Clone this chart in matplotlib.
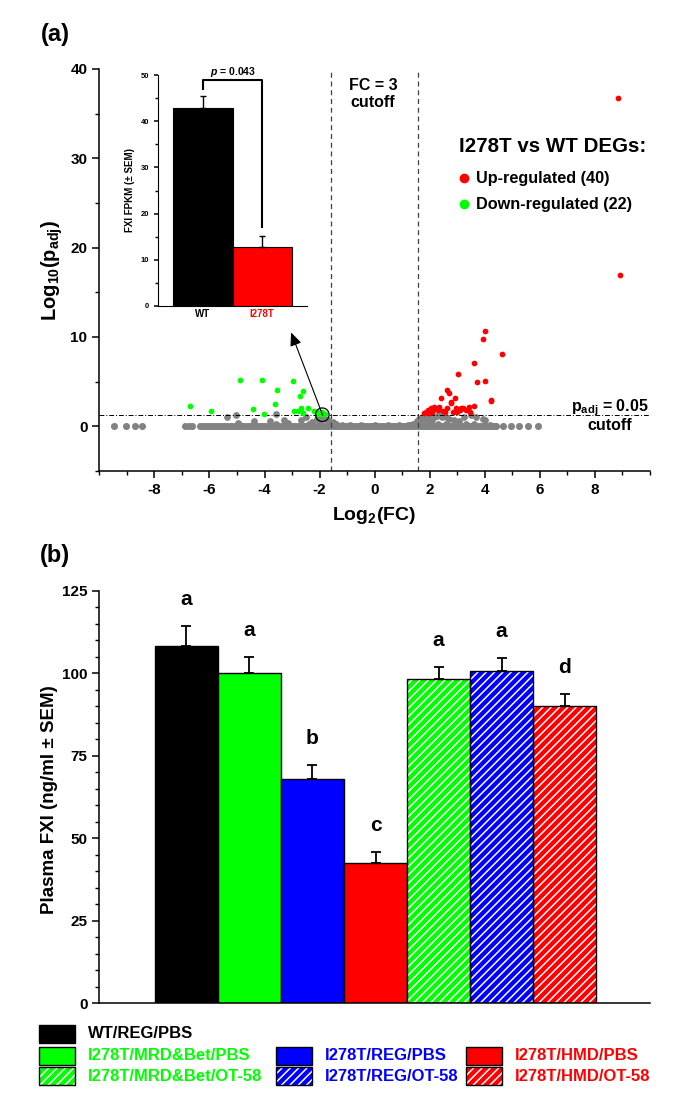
import numpy as np
import matplotlib.pyplot as plt
from matplotlib.patches import Rectangle
from matplotlib.lines import Line2D
from matplotlib.ticker import MultipleLocator

plt.rcParams['font.family'] = ['Liberation Sans', 'DejaVu Sans']
plt.rcParams['font.weight'] = 'bold'
plt.rcParams['axes.labelweight'] = 'bold'
plt.rcParams['axes.unicode_minus'] = False
plt.rcParams['mathtext.fontset'] = 'custom'
plt.rcParams['mathtext.rm'] = 'Liberation Sans:bold'
plt.rcParams['mathtext.it'] = 'Liberation Sans:italic:bold'
plt.rcParams['mathtext.bf'] = 'Liberation Sans:bold'
plt.rcParams['mathtext.default'] = 'rm'
plt.rcParams['hatch.linewidth'] = 1.1
plt.rcParams['axes.linewidth'] = 1.1

# ---- panel (a) data: volcano plot ----
fc_cut = 3
padj_cut = 0.05

# non-significant genes sitting on the baseline
gray0_x = [-9.45, -9.03, -8.70, -8.46, -6.88, -6.75, -6.62,
           -6.33, -6.23, -6.14, -6.06, -5.95, -5.86, -5.76, -5.66, -5.57, -5.47, -5.37, -5.27, -5.17, -5.08,
           -4.98, -4.88, -4.78, -4.68, -4.58, -4.48, -4.38, -4.28, -4.18, -4.08,
           -3.98, -3.88, -3.78, -3.68, -3.58, -3.48, -3.38, -3.28, -3.18, -3.08,
           -2.98, -2.88, -2.78, -2.68, -2.58, -2.48, -2.38, -2.28, -2.18, -2.08,
           -1.98, -1.88, -1.78, -1.68, -1.58, -1.48, -1.38, -1.28, -1.18, -1.08,
           -0.98, -0.88, -0.78, -0.68, -0.58, -0.48, -0.38, -0.28, -0.18, -0.08,
           0.02, 0.12, 0.22, 0.32, 0.42, 0.52, 0.62, 0.72, 0.82, 0.92,
           1.02, 1.12, 1.22, 1.32, 1.42, 1.52, 1.62, 1.72, 1.82, 1.92,
           2.02, 2.12, 2.22, 2.32, 2.42, 2.52, 2.62, 2.72, 2.82, 2.92,
           3.02, 3.12, 3.22, 3.32, 3.42, 3.52, 3.62, 3.72, 3.82, 3.92,
           4.02, 4.12, 4.22, 4.32, 4.42, 4.65, 4.96, 5.26, 5.56, 5.93]
# non-significant genes lifted above the baseline
gray_x = [-5.37, -5.02, -4.98, -4.90, -4.39, -3.81, -3.60, -3.60, -3.30, -3.13, -2.66, -2.49, -2.40,
          -2.27, -2.09, -2.00, -1.95, -1.80, -1.68, -1.60, -1.50, -1.40, -1.20, -0.90, -0.50, 0.00,
          0.50, 0.90, 1.20, 1.30, 1.40, 1.50, 1.55, 1.60, 1.62, 1.70, 1.74, 1.80, 1.86, 1.90, 1.92,
          1.98, 2.00, 2.05, 2.10, 2.16, 2.25, 2.30, 2.35, 2.45, 2.59, 2.60, 2.71, 2.89, 3.00, 3.05,
          3.26, 3.30, 3.50, 3.60, 3.68, 3.95, 3.99, 4.20, 1.45, 1.58, 1.66, 1.78]
gray_y = [1.04, 1.22, 0.37, 0.20, 0.59, 0.59, 1.33, 0.25, 0.74, 0.33, 0.67, 1.00, 0.25,
          0.50, 0.85, 0.40, 0.95, 0.85, 0.67, 0.25, 0.50, 0.30, 0.15, 0.12, 0.12, 0.12,
          0.12, 0.12, 0.15, 0.12, 0.25, 0.40, 0.60, 0.30, 0.85, 0.95, 1.04, 1.15, 1.22, 0.60, 1.28,
          1.33, 0.45, 1.20, 0.70, 1.04, 1.15, 0.30, 1.22, 1.00, 1.10, 0.30, 0.85, 0.74, 0.25, 0.60,
          1.10, 0.30, 1.30, 0.25, 1.10, 0.85, 0.67, 0.20, 0.15, 0.45, 0.65, 0.80]

down_x = [-6.72, -5.93, -4.88, -4.43, -4.10, -4.02, -3.56, -3.62, -2.97, -2.92, -2.78, -2.60,
          -2.70, -2.68, -2.62, -2.42, -2.22, -2.10, -2.01, -1.87, -1.80, -1.92]
down_y = [2.28, 1.72, 5.15, 1.97, 5.15, 1.40, 4.02, 2.47, 5.08, 1.70, 1.72, 3.95,
          3.42, 2.08, 1.50, 2.02, 1.70, 1.55, 1.43, 1.43, 1.36, 1.62]

up_x = [1.80, 1.92, 2.04, 2.14, 2.29, 2.35, 2.47, 2.61, 2.77, 2.83, 2.95, 3.10, 3.22, 3.32,
        3.41, 3.62, 4.23, 2.41, 2.64, 2.70, 2.91, 2.79, 3.02, 3.59, 3.70, 3.94, 4.02, 4.02,
        4.61, 4.23, 8.84, 8.90, 1.86, 1.96, 2.10, 2.20, 2.55, 3.00, 3.15, 3.46]
up_y = [1.48, 1.78, 2.07, 2.15, 1.85, 2.22, 1.70, 2.07, 2.70, 1.59, 2.07, 1.78, 2.07, 1.85,
        2.15, 2.33, 2.78, 3.20, 4.06, 3.76, 3.12, 2.63, 5.86, 7.14, 5.00, 9.77, 10.68, 5.11,
        8.12, 2.93, 36.7, 16.9, 1.60, 1.45, 1.60, 1.90, 1.55, 1.60, 2.00, 1.60]

# inset: FXI FPKM
inset_groups = ['WT', 'I278T']
fpkm = [42.8, 12.8]
fpkm_sem = [2.6, 2.4]
p_value = 0.043

# ---- panel (b) data: plasma FXI ----
groups = ['WT/REG/PBS', 'I278T/MRD&Bet/PBS', 'I278T/REG/PBS', 'I278T/HMD/PBS',
          'I278T/MRD&Bet/OT-58', 'I278T/REG/OT-58', 'I278T/HMD/OT-58']
fxi = [108.3, 100.0, 67.9, 42.4, 98.3, 100.7, 90.2]
fxi_sem = [6.0, 5.0, 4.3, 3.5, 3.7, 4.0, 3.5]
letters = ['a', 'a', 'b', 'c', 'a', 'a', 'd']
colors = ['black', '#00ff00', '#0000ff', '#ff0000', '#00ff00', '#0000ff', '#ff0000']
hatched = [False, False, False, False, True, True, True]
text_colors = ['black', '#00ff00', '#0000ff', '#ff0000', '#00ff00', '#0000ff', '#ff0000']

W, H = 689, 1109
fig = plt.figure(figsize=(W / 100, H / 100), dpi=100)


def box(x0, y0, x1, y1):
    # pixel box (top-left origin) -> figure rect
    return [x0 / W, 1 - y1 / H, (x1 - x0) / W, (y1 - y0) / H]


def ftext(x, y, s, **kw):
    return fig.text(x / W, 1 - y / H, s, **kw)


def style_axis(a, lab_size, major_len=5, minor_len=3):
    for side in ['top', 'right']:
        a.spines[side].set_visible(False)
    a.tick_params(which='major', length=major_len, width=1.1, labelsize=lab_size)
    a.tick_params(which='minor', length=minor_len, width=1.0)


# ---- volcano ----
ax = fig.add_axes(box(99.3, 69, 650, 471))
ax.scatter(gray0_x, np.zeros(len(gray0_x)), s=26, c='#828282', lw=0, zorder=2)
ax.scatter(gray_x, gray_y, s=24, c='#828282', lw=0, zorder=2)
ax.scatter(down_x, down_y, s=17, c='#00ff00', lw=0, zorder=3)
ax.scatter(up_x, up_y, s=17, c='#ff0000', lw=0, zorder=3)
ax.axvline(-np.log2(fc_cut), color='#404040', lw=0.9, ls=(0, (4, 3)))
ax.axvline(np.log2(fc_cut), color='#404040', lw=0.9, ls=(0, (4, 3)))
ax.axhline(-np.log10(padj_cut), color='black', lw=0.7, ls=(0, (5, 2, 1, 2)))
ax.set_xlim(-10, 10)
ax.set_ylim(-5, 40)
ax.xaxis.set_major_locator(MultipleLocator(2))
ax.xaxis.set_minor_locator(MultipleLocator(1))
ax.yaxis.set_major_locator(MultipleLocator(10))
ax.yaxis.set_minor_locator(MultipleLocator(5))
style_axis(ax, 11)
ax.set_xticks([-8, -6, -4, -2, 0, 2, 4, 6, 8])

# circled gene + arrow to the inset
ax.scatter([-1.9], [1.3], s=95, facecolors='none', edgecolors='black', lw=0.9, zorder=4)
ax.annotate('', xy=(-3.07, 10.8), xytext=(-1.85, 0.95),
            arrowprops=dict(arrowstyle='-|>,head_length=0.8,head_width=0.35', color='black', lw=0.8))

ftext(52, 270, r'Log$_{10}$(p$_{adj}$)', rotation=90, ha='center', va='center', fontsize=14.5)
ftext(374, 515, r'Log$_{2}$(FC)', ha='center', va='center', fontsize=14)
ftext(55, 35, '(a)', ha='center', va='center', fontsize=17)
ftext(373, 94, 'FC = 3\ncutoff', ha='center', va='center', fontsize=11.5, linespacing=1.1)
ftext(610, 415, 'p$_{adj}$ = 0.05\ncutoff', ha='center', va='center', fontsize=11.5, linespacing=1.0)
ftext(459, 147, 'I278T vs WT DEGs:', ha='left', va='center', fontsize=14.8)
fig.add_artist(Line2D([464 / W], [1 - 178 / H], marker='o', ms=6, color='#ff0000', lw=0))
fig.add_artist(Line2D([464 / W], [1 - 204 / H], marker='o', ms=6, color='#00ff00', lw=0))
ftext(476, 178, 'Up-regulated (40)', ha='left', va='center', fontsize=11.7)
ftext(476, 204, 'Down-regulated (22)', ha='left', va='center', fontsize=11.7)

# ---- inset bar chart ----
ins = fig.add_axes(box(158, 75, 307, 306))
ins.bar([0, 1], fpkm, width=1, color=['black', '#ff0000'], edgecolor='black', lw=0.8)
ins.errorbar([0, 1], fpkm, yerr=[[0, 0], fpkm_sem], fmt='none', ecolor='black',
             capsize=2, elinewidth=1, capthick=1)
top = fpkm[0] + fpkm_sem[0] + 1.5
ins.plot([0, 0, 1, 1], [top, top + 2, top + 2, fpkm[1] + fpkm_sem[1] + 2], color='black', lw=1.5)
ins.text(0.5, top + 2.3, r'$\mathit{p}$ = ' + str(p_value), ha='center', va='bottom', fontsize=7.5)
ins.set_xlim(-0.75, 1.75)
ins.set_ylim(0, 50)
ins.yaxis.set_major_locator(MultipleLocator(10))
ins.yaxis.set_minor_locator(MultipleLocator(5))
style_axis(ins, 5.5, major_len=3, minor_len=2)
ins.spines['left'].set_linewidth(0.8)
ins.spines['bottom'].set_linewidth(0.8)
ins.set_xticks([0, 1])
ins.set_xticklabels(inset_groups, fontsize=7)
ins.tick_params(axis='x', length=0, pad=2)
ins.get_xticklabels()[1].set_color('#ff0000')
ins.set_ylabel('FXI FPKM (± SEM)', fontsize=7, labelpad=4)

# ---- panel (b) ----
bx = fig.add_axes(box(99.3, 590.7, 650, 1003.3))
xs = np.arange(len(groups))
for i in xs:
    if hatched[i]:
        bx.bar(i, fxi[i], width=1, color=colors[i], edgecolor='white', hatch='////', lw=0, zorder=2)
        bx.bar(i, fxi[i], width=1, fill=False, edgecolor='black', lw=1.0, zorder=3)
    else:
        bx.bar(i, fxi[i], width=1, color=colors[i], edgecolor='black', lw=1.0, zorder=2)
bx.errorbar(xs, fxi, yerr=[np.zeros(len(xs)), fxi_sem], fmt='none', ecolor='black',
            capsize=3.5, elinewidth=1.3, capthick=1.3, zorder=4)
for i in xs:
    bx.text(i, fxi[i] + fxi_sem[i] + 8, letters[i], ha='center', va='center', fontsize=15)
bx.set_xlim(-1.384, 7.357)
bx.set_ylim(0, 125)
bx.yaxis.set_major_locator(MultipleLocator(25))
bx.yaxis.set_minor_locator(MultipleLocator(5))
style_axis(bx, 11)
bx.set_xticks([])
ftext(50, 800, 'Plasma FXI (ng/ml ± SEM)', rotation=90, ha='center', va='center', fontsize=13.5)
ftext(55, 555, '(b)', ha='center', va='center', fontsize=17)

# ---- legend for (b) ----
# slot order matches groups: (col, row)
slots = [(0, 0), (0, 1), (1, 1), (2, 1), (0, 2), (1, 2), (2, 2)]
col_x = [39, 275.6, 465.8]
row_y = [1025, 1046.7, 1067.3]
for i, (c, r) in enumerate(slots):
    x0 = col_x[c]
    y0 = row_y[r]
    rect = box(x0, y0, x0 + 36, y0 + 18)
    if hatched[i]:
        fig.add_artist(Rectangle(rect[:2], rect[2], rect[3], transform=fig.transFigure,
                                 facecolor=colors[i], edgecolor='white', hatch='////', lw=0))
        fig.add_artist(Rectangle(rect[:2], rect[2], rect[3], transform=fig.transFigure,
                                 fill=False, edgecolor='black', lw=1.0))
    else:
        fig.add_artist(Rectangle(rect[:2], rect[2], rect[3], transform=fig.transFigure,
                                 facecolor=colors[i], edgecolor='black', lw=1.0))
    ftext(x0 + 49, y0 + 9, groups[i], ha='left', va='center', fontsize=12, color=text_colors[i])

fig.savefig('out.png', dpi=100)
